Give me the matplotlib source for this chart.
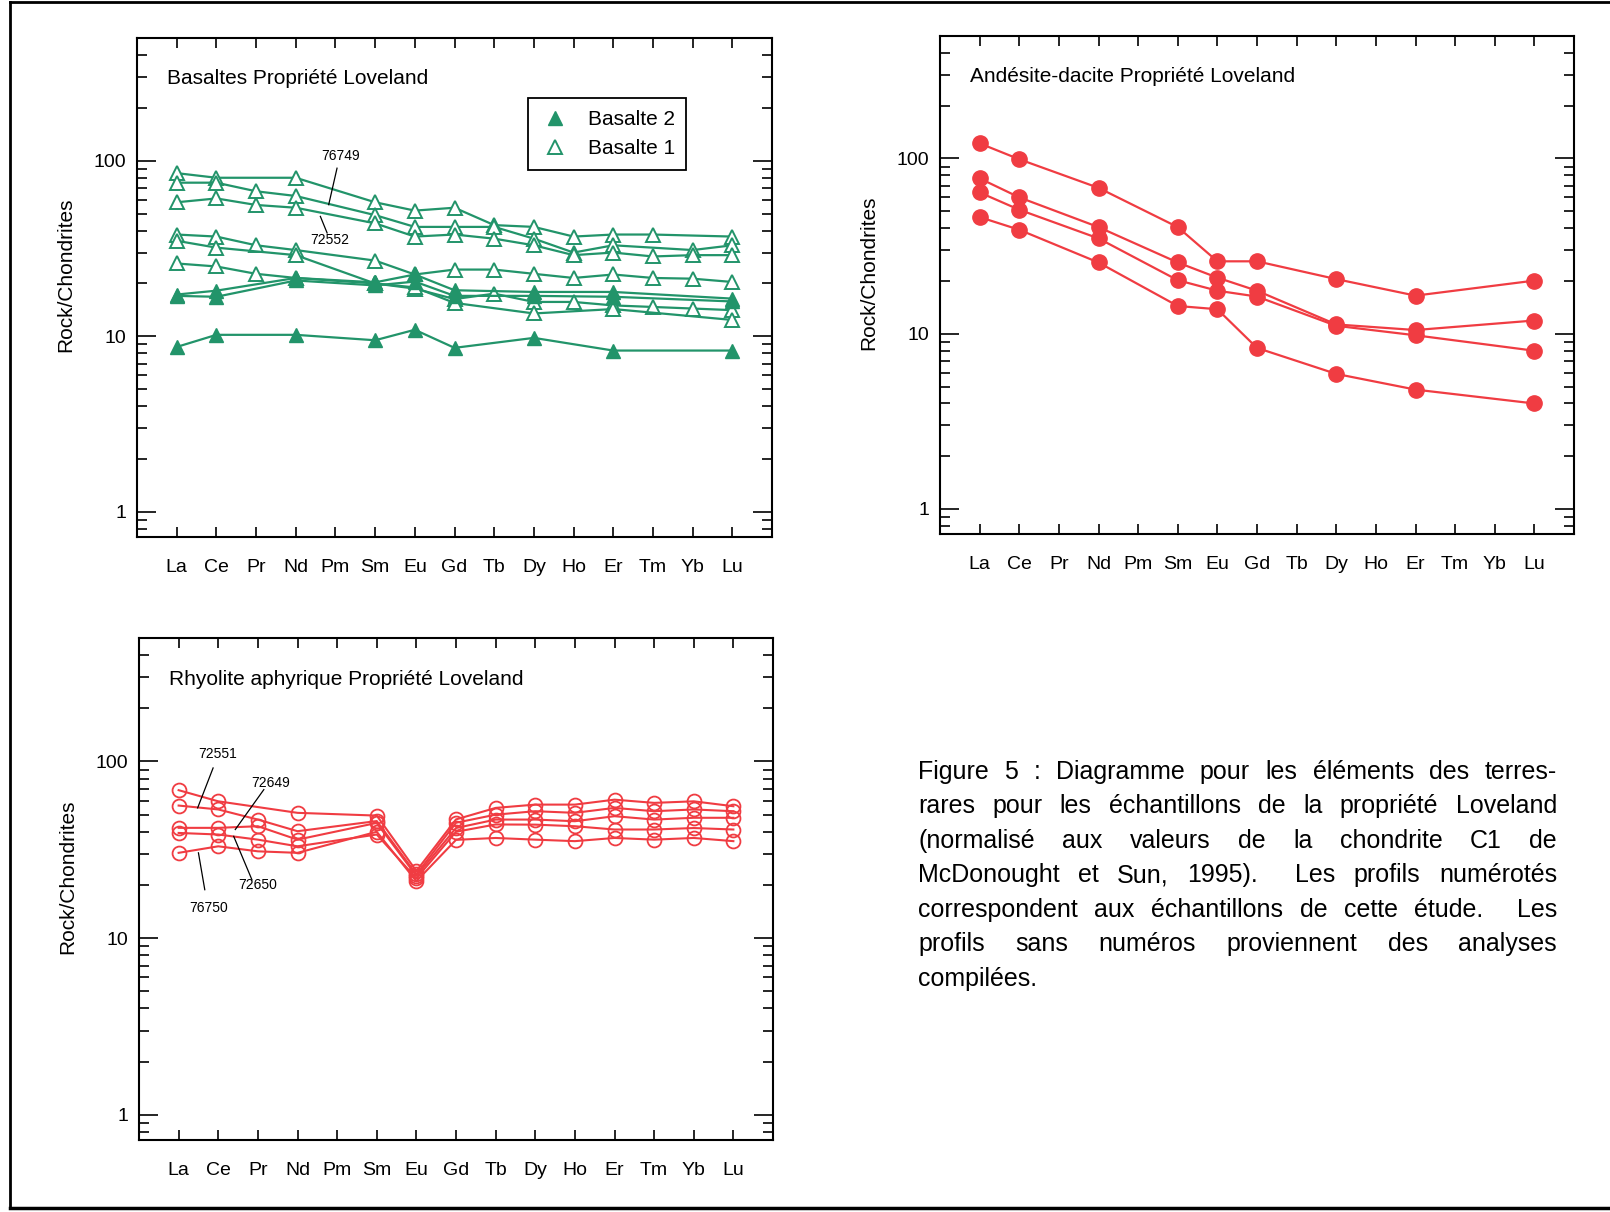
import numpy as np
import matplotlib
matplotlib.use('Agg')
from matplotlib import pyplot as plt
from matplotlib.lines import Line2D
from matplotlib.ticker import NullFormatter

plt.rcParams['font.family'] = ['Liberation Sans', 'DejaVu Sans']

nan = np.nan
elements = ['La', 'Ce', 'Pr', 'Nd', 'Pm', 'Sm', 'Eu', 'Gd', 'Tb', 'Dy', 'Ho', 'Er', 'Tm', 'Yb', 'Lu']

# basaltes, groupe 1 (triangles vides)
basalte1 = [
    [85, 80, nan, 80, nan, 58, 52, 54, 43, 42, 37, 38, 38, nan, 37],
    [75, 75, 67, 63, nan, 49, 42, 42, 42, 36, 30, 33, nan, 31, 33],
    [58, 61, 56, 54, nan, 44, 37, 38, 36, 33, 29, 30, 28.5, 29, 29],
    [38, 37, 33, 31, nan, 27, 22.5, 24, 24, 22.7, 21.5, 22.5, 21.5, 21.3, 20.4],
    [35, 32, nan, 29, nan, 20, 18.7, 16.3, 17.5, 15.7, 15.7, 15.0, 14.7, 14.4, 14.1],
    [26, 25, 22.7, 21.5, nan, 20, 19, 15.5, nan, 13.5, nan, 14.3, nan, nan, 12.4],
]
# basaltes, groupe 2 (triangles pleins)
basalte2 = [
    [17.3, 18.2, nan, 21.5, nan, 20.3, 22.5, 18.3, nan, 17.9, nan, 17.9, nan, nan, 16.4],
    [17.0, 16.8, nan, 20.8, nan, 19.5, 20.5, 17.0, nan, 17.0, nan, 16.8, nan, nan, 15.8],
    [8.7, 10.2, nan, 10.2, nan, 9.5, 10.9, 8.6, nan, 9.8, nan, 8.3, nan, nan, 8.3],
]
andesite = [
    [122, 99, nan, 68, nan, 40.6, 25.9, 25.9, nan, 20.5, nan, 16.5, nan, nan, 20.1],
    [77, 60, nan, 40.6, nan, 25.5, 20.9, 17.6, nan, 11.3, nan, 10.5, nan, nan, 11.9],
    [64, 51, nan, 35, nan, 20.2, 17.6, 16.3, nan, 11.1, nan, 9.8, nan, nan, 8.0],
    [46.3, 39.2, nan, 25.5, nan, 14.4, 13.8, 8.3, nan, 5.9, nan, 4.8, nan, nan, 4.0],
]
rhyolite = [
    [68.8, 59.5, nan, 51.2, nan, 49.4, 24.0, 47, 54.6, 57, 57, 60.8, 58.3, 59.5, 55.8],
    [56.3, 53.5, 46.9, 40.3, nan, 46, 23.0, 45, 50, 52.3, 51.2, 54.6, 52.3, 53.5, 52.3],
    [42.1, 42.1, 43, 36.1, nan, 44.9, 22.5, 42, 46.9, 46.9, 45.9, 49, 46.9, 48, 48],
    [39.4, 38.6, 36.1, 33.1, nan, 38.6, 21.8, 40, 44, 43.9, 43, 41.2, 41.2, 42, 41.2],
    [30.4, 33.1, 31, 30.4, nan, 40, 21.0, 36, 36.9, 36.1, 35.4, 36.9, 36.1, 36.9, 35.4],
]

green = '#22946a'
red = '#f03c42'

fig = plt.figure(figsize=(16.1, 12.12), dpi=100)
W, H = 1610, 1212


def px_axes(l, t, r, b):
    return fig.add_axes([l / W, 1 - b / H, (r - l) / W, (b - t) / H])


def setup(ax, title):
    ax.set_yscale('log')
    ax.set_xlim(-1, 15)
    ax.set_ylim(0.72, 500)
    ax.set_xticks(range(len(elements)))
    ax.set_xticklabels(elements, fontsize=14)
    ax.set_yticks([1, 10, 100])
    ax.set_yticklabels(['1', '10', '100'], fontsize=14)
    ax.yaxis.set_minor_formatter(NullFormatter())
    ax.tick_params(which='both', direction='in', top=True, right=True, width=1.2)
    ax.tick_params(axis='x', which='major', length=7, pad=16)
    ax.tick_params(axis='x', which='minor', length=0)
    ax.tick_params(axis='y', which='major', length=14, pad=8)
    ax.tick_params(axis='y', which='minor', length=7)
    for s in ax.spines.values():
        s.set_linewidth(1.5)
    ax.set_ylabel('Rock/Chondrites', fontsize=15)
    ax.yaxis.set_label_coords(-0.098, 0.525)
    ax.text(0.047, 0.918, title, transform=ax.transAxes, fontsize=15, va='center')


def profile(ax, row, **kw):
    x = np.arange(len(elements))
    y = np.array(row, dtype=float)
    ok = ~np.isnan(y)
    ax.plot(x[ok], y[ok], **kw)


# basaltes
ax1 = px_axes(137, 38, 772, 537)
setup(ax1, 'Basaltes Propriété Loveland')
for row in basalte1:
    profile(ax1, row, color=green, lw=1.6, marker='^', ms=10, mfc='white', mec=green, mew=1.4)
for row in basalte2:
    profile(ax1, row, color=green, lw=1.6, marker='^', ms=10, mfc=green, mec=green)
hand = [Line2D([], [], ls='none', marker='^', ms=10, color=green),
        Line2D([], [], ls='none', marker='^', ms=10, mfc='white', mec=green, mew=1.4)]
leg = ax1.legend(hand, ['Basalte 2', 'Basalte 1'], loc='upper left', bbox_to_anchor=(0.616, 0.879),
                 fontsize=15, fancybox=False, edgecolor='black', framealpha=1,
                 handletextpad=0.8, borderpad=0.55, labelspacing=0.5, handlelength=1.5,
                 borderaxespad=0)
leg.get_frame().set_linewidth(1.3)
# étiquettes des profils
ax1.plot([4.04, 3.83], [90.7, 56.2], color='black', lw=0.9)
ax1.text(4.12, 107, '76749', fontsize=10, ha='center', va='center')
ax1.plot([3.79, 3.62], [38.8, 48.2], color='black', lw=0.9)
ax1.text(3.86, 35.6, '72552', fontsize=10, ha='center', va='center')

# andésite-dacite
ax2 = px_axes(940, 36, 1574, 534)
setup(ax2, 'Andésite-dacite Propriété Loveland')
for row in andesite:
    profile(ax2, row, color=red, lw=1.6, marker='o', ms=11, mfc=red, mec=red)

# rhyolite
ax3 = px_axes(139, 638, 773, 1140)
setup(ax3, 'Rhyolite aphyrique Propriété Loveland')
for row in rhyolite:
    profile(ax3, row, color=red, lw=1.5, marker='o', ms=10, mfc='none', mec=red, mew=1.3)
ax3.plot([0.87, 0.48], [91.9, 54.6], color='black', lw=0.9)
ax3.text(0.98, 110, '72551', fontsize=10, ha='center', va='center')
ax3.plot([2.15, 1.43], [69.3, 41.2], color='black', lw=0.9)
ax3.text(2.33, 75.5, '72649', fontsize=10, ha='center', va='center')
ax3.plot([1.85, 1.39], [21.4, 37.7], color='black', lw=0.9)
ax3.text(2.0, 20.1, '72650', fontsize=10, ha='center', va='center')
ax3.plot([0.5, 0.66], [30.4, 18.8], color='black', lw=0.9)
ax3.text(0.75, 14.9, '76750', fontsize=10, ha='center', va='center')

# légende de la figure, texte justifié
caption = [
    'Figure 5 : Diagramme pour les éléments des terres-',
    'rares pour les échantillons de la propriété Loveland',
    '(normalisé aux valeurs de la chondrite C1 de',
    'McDonought et Sun, 1995).  Les profils numérotés',
    'correspondent aux échantillons de cette étude.  Les',
    'profils sans numéros proviennent des analyses',
    'compilées.',
]
x_left, x_right = 918, 1557
y0, dy = 772, 34.45
renderer = fig.canvas.get_renderer()
for i, line in enumerate(caption):
    y = 1 - (y0 + i * dy) / H
    toks = line.split(' ')
    words, weights = [], []
    wgt = 0
    for t in toks:
        if t == '':
            wgt += 1
            continue
        words.append(t)
        weights.append(wgt)
        wgt = 1
    texts = [fig.text(0.5, y, w, fontsize=18, va='center') for w in words]
    widths = [t.get_window_extent(renderer).width for t in texts]
    if i == len(caption) - 1:
        gap = 0
    else:
        gap = (x_right - x_left - sum(widths)) / sum(weights[1:])
    x = x_left
    for k, t in enumerate(texts):
        if k > 0:
            x += weights[k] * gap
        t.set_x(x / W)
        x += widths[k]

# cadre
fig.add_artist(Line2D([10 / W, 10 / W], [4 / H, 1 - 2 / H], color='black', lw=2))
fig.add_artist(Line2D([10 / W, 1], [1 - 2 / H, 1 - 2 / H], color='black', lw=2))
fig.add_artist(Line2D([10 / W, 1], [4 / H, 4 / H], color='black', lw=2.5))

fig.savefig('out.png', dpi=100)
